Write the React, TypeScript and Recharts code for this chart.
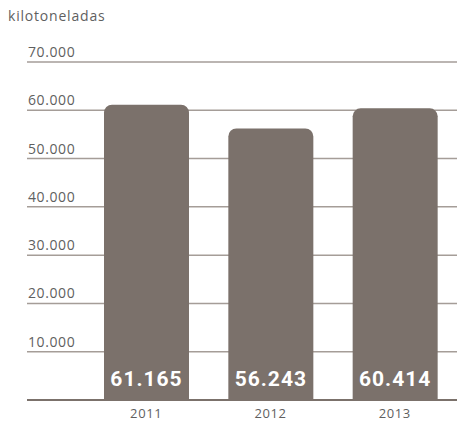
import { BarChart, Bar, XAxis, YAxis, CartesianGrid, LabelList } from "recharts";

const years = ["2011", "2012", "2013"];
const kilotons = [61165, 56243, 60414];
const yTicks = [0, 10000, 20000, 30000, 40000, 50000, 60000, 70000];

const data = years.map((year, i) => ({ year, value: kilotons[i] }));

const fmt = (v: number) => String(v).replace(/\B(?=(\d{3})+(?!\d))/g, ".");

const renderYTick = ({ y, payload }: any) => {
  if (payload.value === 0) return <g />;
  return (
    <text x={28} y={y - 5} fill="#5f5f5f" fontSize={14} fontFamily="Open Sans" letterSpacing={0.6}>
      {fmt(payload.value)}
    </text>
  );
};

const renderXTick = ({ x, payload }: any) => (
  <text x={x} y={418} textAnchor="middle" fill="#5f5f5f" fontSize={13} fontFamily="Open Sans" letterSpacing={0.6}>
    {payload.value}
  </text>
);

const ValueLabel = ({ x, y, width, height, value }: any) => (
  <text
    x={x + width / 2}
    y={y + height - 14}
    textAnchor="middle"
    fill="#ffffff"
    fontSize={21}
    fontWeight="bold"
    fontFamily="Roboto"
    letterSpacing={1}
  >
    {fmt(value)}
  </text>
);

export default function App() {
  return (
    <div style={{ position: "absolute", top: 0, left: 0, width: 457, height: 423, background: "#fff" }}>
      <div
        style={{
          position: "absolute",
          left: 8,
          top: 6,
          fontFamily: "Open Sans",
          fontSize: 14,
          letterSpacing: 0.8,
          color: "#5f5f5f",
        }}
      >
        kilotoneladas
      </div>
      <BarChart width={457} height={423} data={data} margin={{ top: 62, right: 0, left: 26, bottom: 0 }}>
        <CartesianGrid vertical={false} stroke="#a59d98" strokeWidth={1.5} />
        <XAxis
          dataKey="year"
          height={23}
          padding={{ left: 57, right: 0 }}
          axisLine={{ stroke: "#7b716b", strokeWidth: 2 }}
          tickLine={false}
          tick={renderXTick}
          interval={0}
        />
        <YAxis
          width={1}
          domain={[0, 70000]}
          ticks={yTicks}
          axisLine={false}
          tickLine={false}
          tick={renderYTick}
          interval={0}
        />
        <Bar dataKey="value" fill="#7b716b" barSize={85} radius={[8, 8, 0, 0]} isAnimationActive={false}>
          <LabelList dataKey="value" content={<ValueLabel />} />
        </Bar>
      </BarChart>
    </div>
  );
}
